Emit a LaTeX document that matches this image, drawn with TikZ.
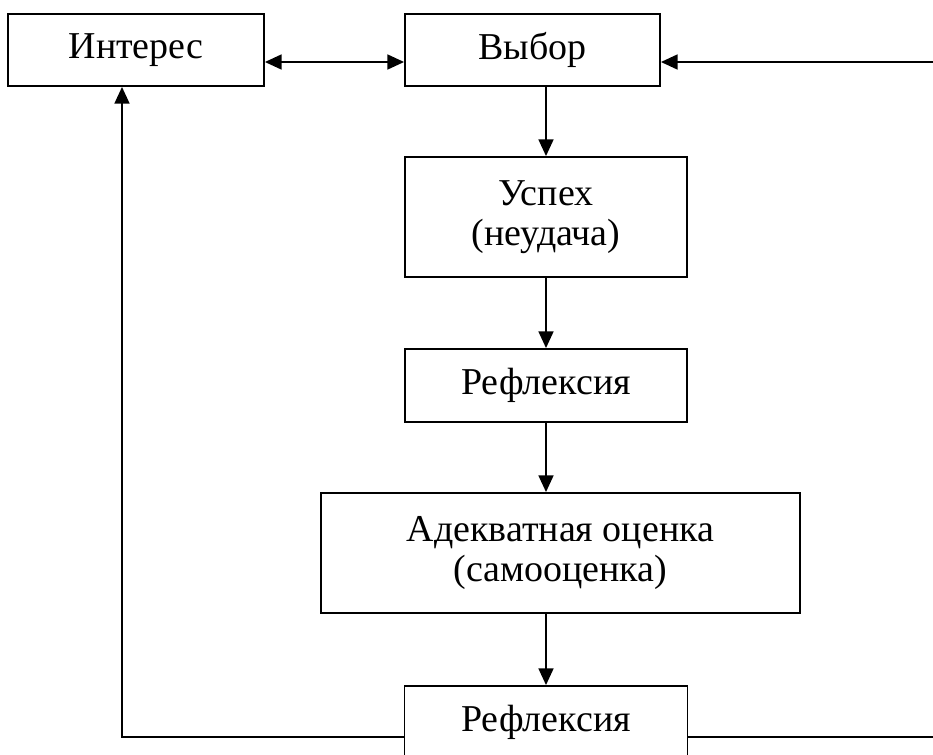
\documentclass[tikz,border=0pt]{standalone}
\usepackage{fontspec}
\setmainfont{Liberation Serif}
\usetikzlibrary{arrows.meta}

\begin{document}
\begin{tikzpicture}[x=0.02cm, y=-0.02cm, line width=1.1pt,
        box/.style={draw, align=center, inner sep=0pt, font=\fontsize{21.6}{22.8}\selectfont},
        >={Triangle[length=9.5pt, width=8.5pt]}]
        \useasboundingbox (0,0) rectangle (933,754);
        \node[box, minimum width=5.12cm, minimum height=1.44cm] (interes) at (136,50) {Интерес};
        \node[box, minimum width=5.10cm, minimum height=1.44cm] (vybor) at (532.5,50) {Выбор};
        \node[box, minimum width=5.64cm, minimum height=2.40cm] (uspeh) at (546,217) {Успех\\(неудача)};
        \node[box, minimum width=5.64cm, minimum height=1.46cm] (refl) at (546,385.5) {Рефлексия};
        \node[box, minimum width=9.58cm, minimum height=2.40cm] (ocenka) at (560.5,553) {Адекватная оценка\\(самооценка)};
        \node[box, minimum width=5.66cm, minimum height=1.46cm] (refl2) at (546,722.5) {Рефлексия};
        \coordinate (linetop) at (933,62);
        \coordinate (linebot) at (933,737);
        \coordinate (leftup) at (122,737);
        \draw[<->] (interes.east |- linetop) -- (vybor.west |- linetop);
        \draw[->] (linetop) -- (vybor.east |- linetop);
        \draw[->] (vybor.south -| uspeh) -- (uspeh.north);
        \draw[->] (uspeh.south) -- (refl.north);
        \draw[->] (refl.south) -- (ocenka.north -| refl);
        \draw[->] (ocenka.south -| refl2) -- (refl2.north);
        \draw[->] (refl2.west |- linebot) -- (leftup) -- (interes.south -| leftup);
        \draw (refl2.east |- linebot) -- (linebot);
    \end{tikzpicture}
\end{document}
